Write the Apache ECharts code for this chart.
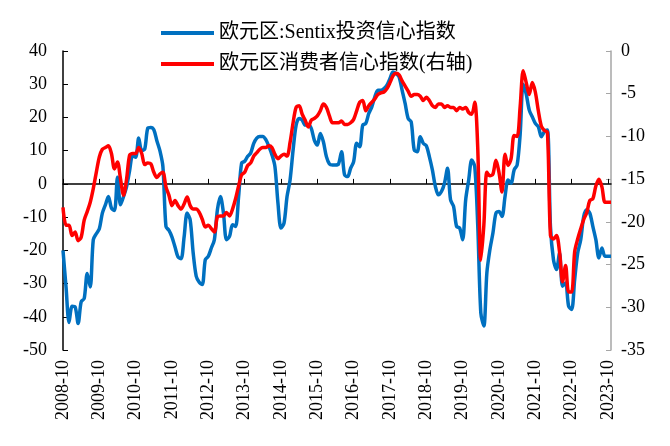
<!DOCTYPE html>
<html>
<head>
<meta charset="utf-8">
<script src="https://cdn.jsdelivr.net/npm/echarts@6/dist/echarts.min.js"></script>
<style>
html,body{margin:0;padding:0;background:#fff;}
#chart{width:670px;height:446px;}
</style>
</head>
<body>
<div id="chart"></div>
<script>
// 月度数据：2008-10 ~ 2023-11
var startYear = 2008, startMonth = 10, monthCount = 182;
var months = [];
for (var i = 0; i < monthCount; i++) {
  var m = startMonth - 1 + i;
  var y = startYear + Math.floor(m / 12);
  var mm = (m % 12) + 1;
  months.push(y + '-' + (mm < 10 ? '0' + mm : mm));
}

// 欧元区:Sentix投资信心指数（左轴）
var sentix = [
  -20, -31, -41.7, -36.8, -37, -42, -35.5, -34.5, -27, -31,
  -16.8, -15, -13.5, -8.8, -6.3, -3.8, -7.3, -8, 2, -6.3,
  -3.8, -0.8, 4, 8.5, 8, 13.8, 10, 10.5, 16.8, 17,
  16.3, 13, 10, 5.2, -12.8, -14, -16, -19, -22, -22.5,
  -16, -8.8, -10.8, -20.8, -27.8, -29.6, -30.3, -22.8, -21.8, -19.3,
  -16.8, -7.8, -3.8, -8.8, -16.8, -15.8, -12.3, -12.8, -3.8, 6.3,
  6.8, 8.3, 9.3, 12.2, 13.8, 14.3, 14.3, 13.3, 11.3, 8.8,
  5.2, -5.8, -13.3, -11.8, -3.8, 1.2, 10.2, 17.7, 19.7, 19.2,
  17.7, 17.7, 16.7, 13.2, 11.7, 15.2, 12.7, 8.2, 6, 5.7,
  5.7, 6, 9.7, 2.7, 2.2, 4.7, 6.7, 12.2, 11.2, 17.7,
  18.2, 21.2, 23.2, 26.2, 28.2, 28.2, 28.7, 29.7, 31.7, 33.7,
  33.2, 32.2, 28.2, 24.2, 19.7, 18.7, 10.2, 9.7, 14.2, 12.2,
  11.5, 8.2, 4.2, -0.8, -3.3, -2.3, 0.2, 4.7, -4.8, -6.8,
  -12.8, -13.3, -16.8, -4.8, 1.2, 7.2, 5.2, -12.8, -38.8, -42.8,
  -26.8, -19.8, -14.8, -8.8, -8.3, -9.8, -3.8, 1.2, 0.2, 4.2,
  5.7, 15, 30, 27, 22.2, 20.2, 18.2, 17.2, 14.2, 15.7,
  16.2, -12.8, -22.8, -25.8, -20.8, -30.8, -29.8, -36.8, -37.8, -28.8,
  -20.8, -16.8, -9.8, -7.8, -8.8, -12.8, -16.8, -22.3, -19.3, -21.8,
  -21.8, -21.8
];

// 欧元区消费者信心指数（右轴）
var consumer = [
  -18.3, -20.4, -20.4, -21.6, -21.2, -22.2, -21.8, -19.8, -18.8, -17.7,
  -16.1, -14.2, -12.4, -11.5, -11.3, -11.1, -12, -13.8, -13, -15,
  -16.9, -15, -12.2, -12, -12, -11.3, -12, -13.3, -13.1, -13.2,
  -14.2, -14.8, -14.4, -14.2, -15.9, -16.9, -18.1, -17.5, -18.1, -18.5,
  -17.9, -17.1, -18.1, -18.5, -18.5, -18.9, -19.7, -20.6, -20.4, -20.8,
  -21.2, -19.4, -19.3, -19.3, -18.9, -19.3, -18.5, -17.3, -15.8, -14.5,
  -14.2, -13.4, -13.1, -12.3, -11.9, -11.5, -11.3, -11.3, -11.1, -11.3,
  -12.1, -12.6, -12.3, -12.1, -12.3, -10.7, -8.4, -6.6, -6.4, -7.4,
  -8.1, -8.9, -8.1, -7.9, -7.6, -7, -6.2, -6.6, -7.6, -8.4,
  -8.4, -8.4, -8.2, -8.6, -8.6, -8.4, -8, -7, -6, -5.8,
  -7, -6.4, -6, -5.6, -5.1, -4.9, -4.8, -4.4, -3.7, -2.9,
  -2.6, -2.8, -3.5, -4.1, -4.7, -5.3, -5.1, -5.1, -5.3, -5.8,
  -5.4, -5.8, -6.4, -6.6, -6.2, -6.2, -6.6, -6.4, -6.6, -6.6,
  -7, -6.6, -6.8, -6.6, -7.2, -7.4, -6, -11.5, -24.5, -20.4,
  -14.2, -14.6, -14.4, -12.8, -14.2, -16.5, -12.1, -13.4, -12.6, -9.9,
  -10, -6.5, -2.3, -3.7, -5.1, -3.7, -4.8, -7, -8.8, -9.3,
  -9.5, -21.6, -22, -21.6, -23.5, -27, -25.1, -28.2, -28.2, -23.5,
  -22, -20.8, -19.7, -18.9, -17.5, -17.3, -15.8, -15, -15.9, -17.7,
  -17.7, -17.7
];

var leftTicks = {min: -50, max: 40, interval: 10};
var rightTicks = {min: -35, max: 0, interval: 5};

var serifFont = '"Liberation Serif", "Times New Roman", "Noto Sans CJK SC", serif';

var myChart = echarts.init(document.getElementById('chart'));
var option = {
  animation: false,
  backgroundColor: '#fff',
  textStyle: {fontFamily: serifFont},
  legend: {
    orient: 'vertical',
    left: 156,
    top: 18,
    itemWidth: 53,
    itemHeight: 4,
    itemGap: 11,
    icon: 'rect',
    textStyle: {fontFamily: serifFont, fontSize: 20, color: '#000'},
    data: ['欧元区:Sentix投资信心指数', '欧元区消费者信心指数(右轴)']
  },
  grid: {left: 63, right: 59, top: 51, bottom: 96, containLabel: false},
  xAxis: [
    {
      type: 'category',
      boundaryGap: false,
      data: months,
      axisLine: {show: false},
      axisTick: {show: false},
      axisLabel: {
        interval: 11,
        rotate: 90,
        margin: 10,
        fontSize: 18,
        color: '#000',
        fontFamily: serifFont
      }
    },
    {
      // 0 轴线
      type: 'category',
      boundaryGap: false,
      data: months,
      position: 'bottom',
      axisLine: {onZero: true, onZeroAxisIndex: 0, lineStyle: {color: '#000', width: 1.5}},
      axisTick: {show: true, inside: true, interval: 11, length: 5, lineStyle: {color: '#000'}},
      axisLabel: {show: false}
    }
  ],
  yAxis: [
    {
      type: 'value',
      min: leftTicks.min,
      max: leftTicks.max,
      interval: leftTicks.interval,
      splitLine: {show: false},
      axisLine: {show: true, lineStyle: {color: '#000', width: 1.5}},
      axisTick: {show: true, inside: true, length: 5, lineStyle: {color: '#000'}},
      axisLabel: {fontSize: 18, color: '#000', margin: 16, fontFamily: serifFont}
    },
    {
      type: 'value',
      min: rightTicks.min,
      max: rightTicks.max,
      interval: rightTicks.interval,
      splitLine: {show: false},
      axisLine: {show: true, lineStyle: {color: '#a6a6a6', width: 1.5}},
      axisTick: {show: true, inside: true, length: 5, lineStyle: {color: '#a6a6a6'}},
      axisLabel: {fontSize: 18, color: '#000', margin: 10, fontFamily: serifFont}
    }
  ],
  series: [
    {
      name: '欧元区:Sentix投资信心指数',
      type: 'line',
      xAxisIndex: 0,
      yAxisIndex: 0,
      data: sentix,
      showSymbol: false,
      smooth: 0.3,
      color: '#0070c0',
      lineStyle: {width: 3.5, color: '#0070c0'}
    },
    {
      name: '欧元区消费者信心指数(右轴)',
      type: 'line',
      xAxisIndex: 0,
      yAxisIndex: 1,
      data: consumer,
      showSymbol: false,
      smooth: 0.3,
      color: '#ff0000',
      lineStyle: {width: 3.5, color: '#ff0000'}
    }
  ]
};
myChart.setOption(option);
</script>
</body>
</html>
